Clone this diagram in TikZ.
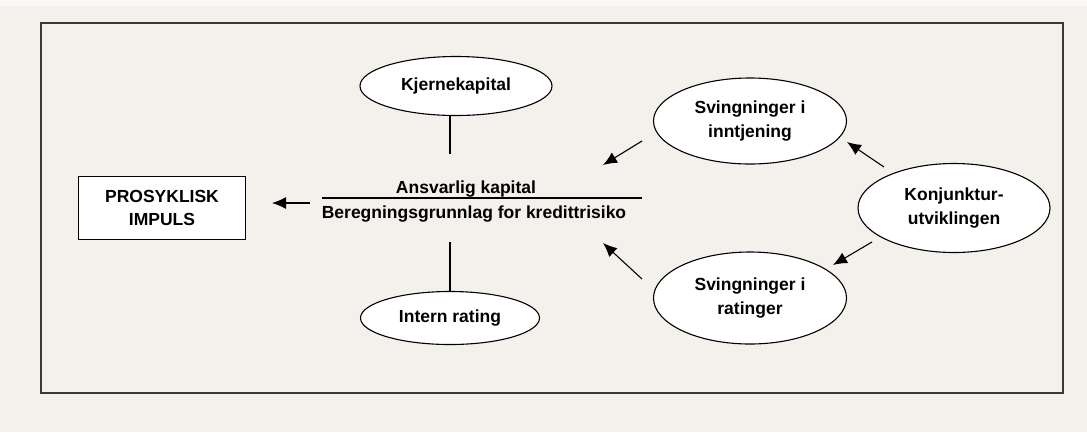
\documentclass[tikz,border=0pt]{standalone}
\usepackage{fontspec}
\setmainfont{Liberation Sans}
\usetikzlibrary{arrows.meta,shapes.geometric}
\definecolor{bg}{HTML}{F4F1EC}
\definecolor{frame}{HTML}{3A3A3A}
\begin{document}
\begin{tikzpicture}[x=1pt,y=-1pt,
  txt/.style={font=\fontsize{17.5}{23.5}\selectfont\bfseries, align=center, inner sep=0pt},
  oval/.style={ellipse, draw=black, line width=1.1pt, fill=white, txt},
  arr/.style={line width=1.1pt, -{Latex[length=14pt,width=12pt]}},
  plain/.style={line width=1.1pt}]
\useasboundingbox (0,0) rectangle (1087,432);
\fill[bg] (0,0) rectangle (1087,432);
\fill[white!60!bg] (0,0) rectangle (1087,6);
\draw[frame, line width=1.8pt] (41,23) rectangle (1063,393);

\node[txt, draw=black, line width=1.1pt, fill=white, minimum width=167pt, minimum height=63pt] (box) at (162,208) {PROSYKLISK\\IMPULS};
\node[oval, minimum width=192pt, minimum height=59pt] (kj) at (456,86) {Kjernekapital};
\node[oval, minimum width=179pt, minimum height=53pt] (ir) at (450,318) {Intern rating};
\node[oval, minimum width=193pt, minimum height=86pt] (inn) at (750,121) {Svingninger i\\inntjening};
\node[oval, minimum width=193pt, minimum height=92pt] (rat) at (750,298) {Svingninger i\\ratinger};
\node[oval, minimum width=192pt, minimum height=89pt] (konj) at (954,208) {Konjunktur-\\utviklingen};

\node[txt, anchor=base] (num) at (466,193) {Ansvarlig kapital};
\node[txt, anchor=base] (den) at (474,218) {Beregningsgrunnlag for kredittrisiko};
\coordinate (fl) at (322,198);
\coordinate (fr) at (642,198);
\draw[plain] (fl) -- (fr);

\coordinate (vt) at (450,154);
\coordinate (vb) at (450,242);
\draw[plain] (vt) -- (vt |- kj.south);
\draw[plain] (vb) -- (vb |- ir.north);

\coordinate (a0s) at (310,203);
\coordinate (a0e) at (272,203);
\draw[arr] (a0s) -- (a0e);
\coordinate (a1s) at (642,141);
\coordinate (a1e) at (603,165);
\draw[arr] (a1s) -- (a1e);
\coordinate (a2s) at (642,279);
\coordinate (a2e) at (603,243);
\draw[arr] (a2s) -- (a2e);
\coordinate (a3s) at (884,167);
\coordinate (a3e) at (847,142);
\draw[arr] (a3s) -- (a3e);
\coordinate (a4s) at (872,242);
\coordinate (a4e) at (833,265);
\draw[arr] (a4s) -- (a4e);
\end{tikzpicture}
\end{document}
